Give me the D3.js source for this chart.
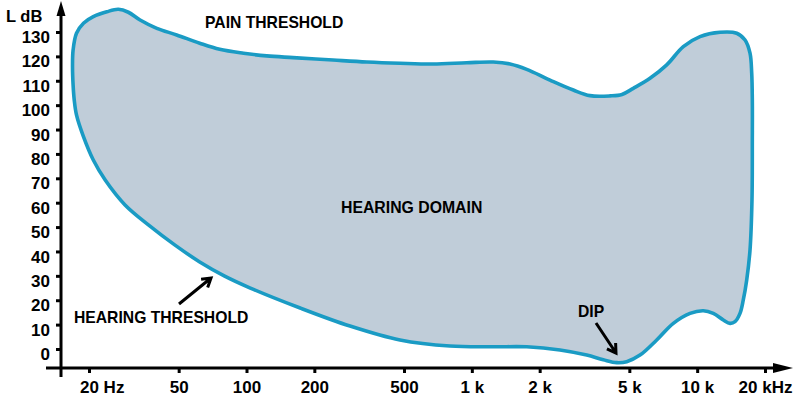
<!DOCTYPE html>
<html><head><meta charset="utf-8">
<script src="https://cdn.jsdelivr.net/npm/d3@7"></script>
<style>
body{margin:0;background:#fff}
text{font-family:"Liberation Sans",Arial,sans-serif;font-weight:bold;fill:#000}
</style>
</head><body>
<svg id="c" width="798" height="408"></svg>
<script>
// ---- data ----
const xTickValues = [20, 50, 100, 200, 500, 1000, 2000, 5000, 10000, 20000];
const xTickLabels = ["20 Hz", "50", "100", "200", "500", "1 k", "2 k", "5 k", "10 k", "20 kHz"];
const yTickValues = [0, 10, 20, 30, 40, 50, 60, 70, 80, 90, 100, 110, 120, 130];

// upper boundary (pain threshold), left edge -> right edge (Hz, dB)
const upperFreq = [17.2, 17.0, 16.9, 17.0, 17.6, 18.9, 20.9, 24.0, 27.0, 29.9, 33.7, 40, 49, 62, 76, 97, 123, 161, 242, 342, 480, 672, 949, 1245, 1477, 1752, 2223, 2820, 3345, 4105, 4638, 5208, 6176, 7326, 8678, 10294, 12630, 14980, 16310, 17160, 17460, 17570, 17570, 17510, 17160];
const upperDb   = [102.1, 108.3, 115.8, 122.6, 129.5, 133.6, 136.3, 138.3, 139.3, 138.1, 134.9, 131.5, 128.8, 125.4, 122.9, 121.3, 120.2, 119.5, 118.5, 117.7, 117.2, 116.9, 117.4, 117.7, 116.9, 114.7, 110.3, 106.2, 103.9, 103.8, 104.4, 106.9, 111.0, 116.5, 124.0, 128.1, 129.9, 129.5, 126.7, 121.3, 113.1, 102.1, 85.7, 61.1, 40.6];

// lower boundary (hearing threshold), right edge -> left edge (Hz, dB)
const lowerFreq = [16590, 16020, 15490, 14720, 13990, 13060, 11790, 10650, 9294, 7838, 6614, 5576, 4867, 4395, 3832, 3234, 2462, 1752, 1245, 800, 480, 288, 173, 104, 80, 62, 48, 37.3, 28.9, 23.6, 20.9, 18.9, 17.6];
const lowerDb   = [28.3, 20.1, 14.6, 11.2, 10.5, 11.9, 14.6, 15.7, 14.6, 10.5, 3.7, -2.5, -5.2, -5.6, -4.4, -2.5, -0.4, 0.9, 0.9, 1.2, 3.7, 9.4, 16.8, 25.0, 29.9, 35.7, 42.7, 50.4, 59.1, 69.3, 77.5, 87.1, 96.0];

// ---- drawing ----
const svg = d3.select("#c");
const x = d3.scaleLog().domain([20, 20000]).range([89, 765]);
const y = d3.scaleLinear().domain([0, 130]).range([349, 32]);

const pts = upperFreq.map((f, i) => [f, upperDb[i]])
  .concat(lowerFreq.map((f, i) => [f, lowerDb[i]]));

const line = d3.line()
  .x(d => x(d[0])).y(d => y(d[1]))
  .curve(d3.curveCatmullRomClosed.alpha(0.5));

svg.append("path")
  .datum(pts)
  .attr("d", line)
  .attr("fill", "#c0cdd9")
  .attr("stroke", "#1a9bc4")
  .attr("stroke-width", 3.6)
  .attr("stroke-linejoin", "round");

// axes lines with arrows
const axisG = svg.append("g");
axisG.append("line").attr("x1", 61).attr("x2", 61).attr("y1", 377).attr("y2", 12)
  .attr("stroke", "#000").attr("stroke-width", 3);
axisG.append("path").attr("d", "M61,1 L56.5,16 L65.5,16 Z").attr("fill", "#000");
axisG.append("line").attr("x1", 46).attr("x2", 780).attr("y1", 368).attr("y2", 368)
  .attr("stroke", "#000").attr("stroke-width", 3);
axisG.append("path").attr("d", "M793,368 L773,363 L773,373 Z").attr("fill", "#000");

// y axis ticks
const yAxis = svg.append("g").attr("transform", "translate(61,0)")
  .call(d3.axisLeft(y).tickValues(yTickValues).tickSize(5).tickSizeOuter(0));
yAxis.select(".domain").remove();
yAxis.selectAll(".tick line").attr("stroke", "#000").attr("stroke-width", 3);
yAxis.selectAll(".tick text")
  .attr("x", -11).attr("dy", "0.62em")
  .style("font-size", "17px").style("font-family", "'Liberation Sans',Arial,sans-serif")
  .style("font-weight", "bold").attr("fill", "#000");

// x axis ticks
const xAxis = svg.append("g").attr("transform", "translate(0,368)")
  .call(d3.axisBottom(x).tickValues(xTickValues).tickFormat((d, i) => xTickLabels[i]).tickSize(5).tickSizeOuter(0));
xAxis.select(".domain").remove();
xAxis.selectAll(".tick line").attr("stroke", "#000").attr("stroke-width", 3);
xAxis.selectAll(".tick text")
  .attr("y", 25).attr("dy", 0)
  .style("font-size", "17px").style("font-family", "'Liberation Sans',Arial,sans-serif")
  .style("font-weight", "bold").attr("fill", "#000");
xAxis.selectAll(".tick text").filter((d, i) => i === 0)
  .attr("text-anchor", "start").attr("dx", "-0.56em");

// labels
svg.append("text").attr("x", 6).attr("y", 22).style("font-size", "16.5px").text("L dB");
svg.append("text").attr("x", 205).attr("y", 27.5).style("font-size", "15.7px").text("PAIN THRESHOLD");
svg.append("text").attr("x", 341).attr("y", 212.5).style("font-size", "15.8px").text("HEARING DOMAIN");
svg.append("text").attr("x", 74).attr("y", 322.7).style("font-size", "15.7px").text("HEARING THRESHOLD");
svg.append("text").attr("x", 578).attr("y", 317.3).style("font-size", "15.7px").text("DIP");

// annotation arrows
function arrow(x1, y1, x2, y2) {
  const a = Math.atan2(y2 - y1, x2 - x1), L = 10, s = 0.55;
  const p1 = [x2 - L * Math.cos(a - s), y2 - L * Math.sin(a - s)];
  const p2 = [x2 - L * Math.cos(a + s), y2 - L * Math.sin(a + s)];
  svg.append("path")
    .attr("d", `M${x1},${y1}L${x2},${y2}M${p1[0]},${p1[1]}L${x2},${y2}L${p2[0]},${p2[1]}`)
    .attr("fill", "none").attr("stroke", "#000").attr("stroke-width", 3)
    .attr("stroke-linejoin", "miter").attr("stroke-linecap", "butt");
}
arrow(179, 304, 211, 278);
arrow(596, 323, 616, 353);
</script>
</body></html>
